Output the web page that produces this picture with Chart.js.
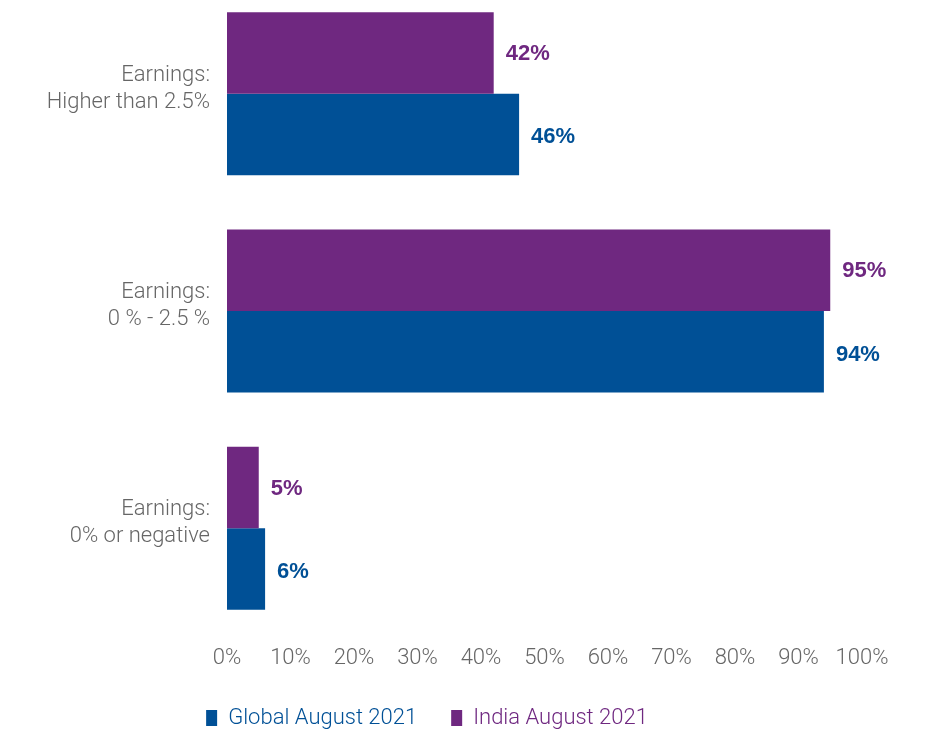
<!DOCTYPE html>
<html>
<head>
<meta charset="utf-8">
<script src="https://cdn.jsdelivr.net/npm/chart.js@4"></script>
<style>
  html, body { margin: 0; padding: 0; background: #fff; }
  #frame { width: 926px; height: 731px; position: relative; overflow: hidden; }
  /* the source chart is cropped a little at the top and bottom */
  #wrap { position: absolute; left: 0; top: -15px; width: 926px; height: 754px; }
</style>
</head>
<body>
<div id="frame"><div id="wrap"><canvas id="chart"></canvas></div></div>
<script>
const categories = [
    ['Earnings:', 'Higher than 2.5%'],
    ['Earnings:', '0 % - 2.5 %'],
    ['Earnings:', '0% or negative']
];
const indiaValues = [42, 95, 5];
const globalValues = [46, 94, 6];
const seriesNames = ['India August 2021', 'Global August 2021'];

const purple = '#6f2880';
const blue = '#005096';
const grey = '#666666';

// draws the bold % figure to the right of every bar
const valueLabels = {
    id: 'valueLabels',
    afterDatasetsDraw(chart) {
        const ctx = chart.ctx;
        ctx.save();
        ctx.font = 'bold 22px "Liberation Sans", Arial, sans-serif';
        ctx.textAlign = 'left';
        ctx.textBaseline = 'middle';
        chart.data.datasets.forEach(function (ds, i) {
            const meta = chart.getDatasetMeta(i);
            const dy = i === 0 ? 1 : 3;
            ctx.fillStyle = ds.backgroundColor;
            meta.data.forEach(function (bar, j) {
                ctx.fillText(ds.data[j] + '%', bar.x + 12, bar.y + dy);
            });
        });
        ctx.restore();
    }
};

document.addEventListener('DOMContentLoaded', function () {
    const canvas = document.getElementById('chart');

    new Chart(canvas, {
        type: 'bar',
        data: {
            labels: categories,
            datasets: [{
                label: seriesNames[0],
                data: indiaValues,
                backgroundColor: purple,
                categoryPercentage: 0.75,
                barPercentage: 1
            }, {
                label: seriesNames[1],
                data: globalValues,
                backgroundColor: blue,
                categoryPercentage: 0.75,
                barPercentage: 1
            }]
        },
        options: {
            indexAxis: 'y',
            responsive: true,
            maintainAspectRatio: false,
            animation: false,
            layout: {
                padding: { top: 0, left: -8, right: 64, bottom: 0 }
            },
            scales: {
                x: {
                    min: 0,
                    max: 100,
                    grid: { display: false, drawTicks: false },
                    border: { display: false },
                    ticks: {
                        stepSize: 10,
                        padding: 8,
                        color: grey,
                        font: { family: 'Roboto', weight: 300, size: 22 },
                        callback: function (v) { return v + '%'; }
                    },
                    afterFit: function (scale) { scale.height = 36; }
                },
                y: {
                    grid: { display: false, drawTicks: false },
                    border: { display: false },
                    ticks: {
                        padding: 17,
                        labelOffset: -5,
                        color: grey,
                        font: { family: 'Roboto', weight: 300, size: 22, lineHeight: 1.23 }
                    },
                    afterFit: function (scale) {
                        scale.width = 235;
                        scale.paddingTop = 0;
                        scale.paddingBottom = 0;
                    }
                }
            },
            plugins: {
                tooltip: { enabled: false },
                legend: {
                    position: 'bottom',
                    align: 'center',
                    reverse: true,
                    labels: {
                        boxWidth: 11,
                        boxHeight: 16,
                        padding: 34,
                        font: { family: 'Roboto', weight: 300, size: 22 },
                        generateLabels: function (chart) {
                            return chart.data.datasets.map(function (ds, i) {
                                return {
                                    text: ds.label,
                                    fillStyle: ds.backgroundColor,
                                    strokeStyle: ds.backgroundColor,
                                    lineWidth: 0,
                                    fontColor: ds.backgroundColor,
                                    datasetIndex: i,
                                    hidden: false
                                };
                            });
                        }
                    }
                }
            }
        },
        plugins: [valueLabels]
    });
});
</script>
</body>
</html>
